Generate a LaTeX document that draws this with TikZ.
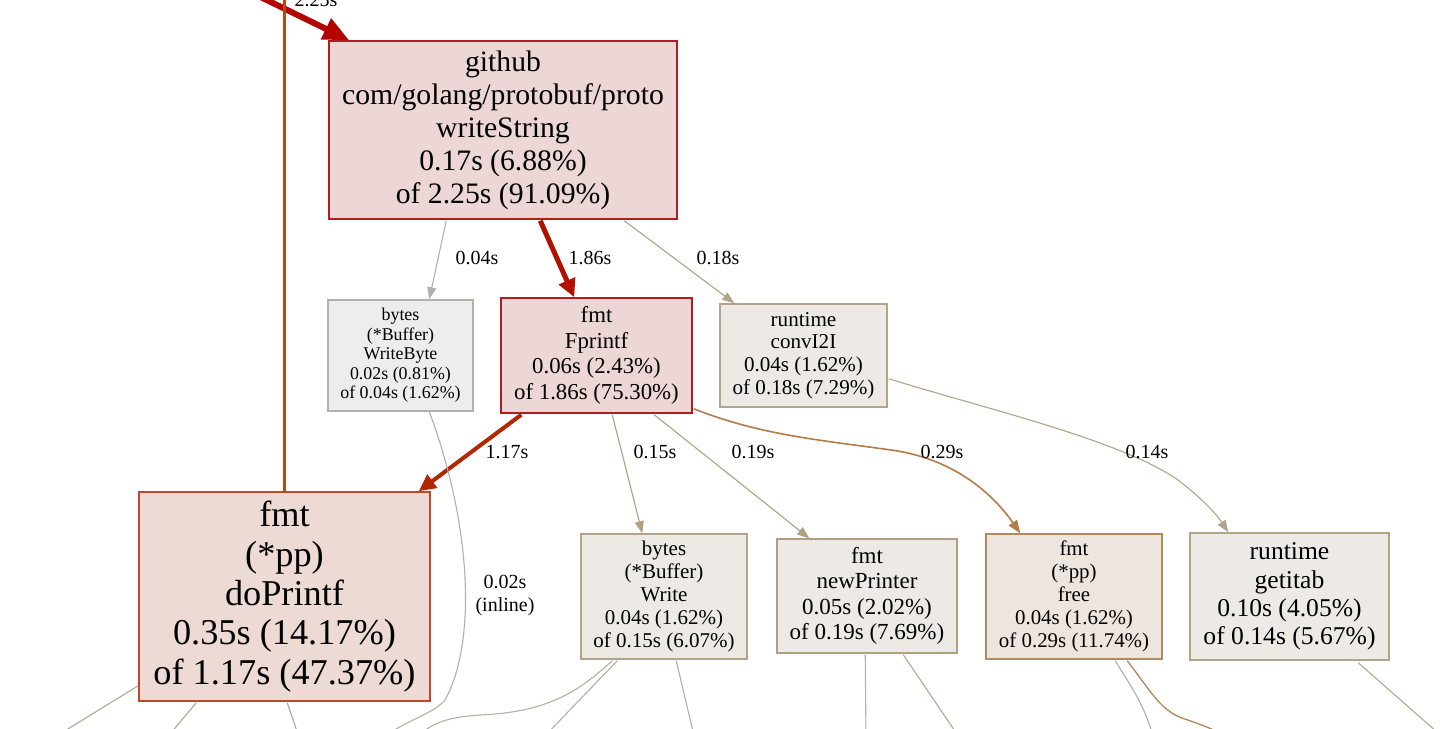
\documentclass[tikz,border=0pt]{standalone}
\usepackage{fontspec}
\setmainfont{Liberation Serif}
\usetikzlibrary{arrows.meta,calc}
\definecolor{eA}{HTML}{B20500}
\definecolor{eB}{HTML}{B21000}
\definecolor{eC}{HTML}{B22600}
\definecolor{eV}{HTML}{B8480F}
\definecolor{eF}{HTML}{B27C48}
\definecolor{eT}{HTML}{B29E80}
\definecolor{eL}{HTML}{B2A48A}
\definecolor{eG}{HTML}{B2B0AA}
\definecolor{eD}{HTML}{B2A894}
\definecolor{eN}{HTML}{B2865A}
\definecolor{fRed}{HTML}{EDD6D6}
\definecolor{dRed}{HTML}{B21C1C}
\definecolor{fOr}{HTML}{EDDAD5}
\definecolor{dOr}{HTML}{BC4A28}
\definecolor{fGr}{HTML}{EDEDEC}
\definecolor{dGr}{HTML}{B2B1AE}
\definecolor{fTan}{HTML}{EDEAE6}
\definecolor{dTan}{HTML}{B2A38A}
\definecolor{fTan2}{HTML}{EDE9E5}
\definecolor{dTan2}{HTML}{B29F83}
\definecolor{fBr}{HTML}{EDE5DE}
\definecolor{dBr}{HTML}{B28A5F}
\tikzset{
  box/.style={draw, rectangle, inner sep=0pt, align=center, line width=1.5pt},
  lbl/.style={font=\fontsize{20}{23}\selectfont, inner sep=0pt, align=center},
  thin/.style={line width=1.1pt},
  tipS/.style={-{Triangle[length=12pt,width=9pt]}},
}
\begin{document}
\begin{tikzpicture}[x=1pt,y=-1pt]
\useasboundingbox (0,0) rectangle (1450,728);
\clip (0,0) rectangle (1450,728);
\fill[white] (0,0) rectangle (1450,728);

% nodes
\node[box, fill=fRed, draw=dRed, minimum width=348pt, minimum height=178pt,
  font=\fontsize{29.7}{33}\selectfont] (gh) at (503,130)
  {github\\com/golang/protobuf/proto\\writeString\\0.17s (6.88\%)\\of 2.25s (91.09\%)};
\node[box, fill=fGr, draw=dGr, minimum width=145pt, minimum height=111pt,
  font=\fontsize{17.9}{19.5}\selectfont] (wb) at (400.5,355.5)
  {bytes\\(*Buffer)\\WriteByte\\0.02s (0.81\%)\\of 0.04s (1.62\%)};
\node[box, fill=fRed, draw=dRed, minimum width=191pt, minimum height=115pt,
  font=\fontsize{22.8}{25.5}\selectfont] (fp) at (596.5,355.5)
  {fmt\\Fprintf\\0.06s (2.43\%)\\of 1.86s (75.30\%)};
\node[box, fill=fTan, draw=dTan, minimum width=167pt, minimum height=103pt,
  font=\fontsize{21.1}{22.7}\selectfont] (cv) at (803.5,355.5)
  {runtime\\convI2I\\0.04s (1.62\%)\\of 0.18s (7.29\%)};
\node[box, fill=fOr, draw=dOr, minimum width=291pt, minimum height=209pt,
  font=\fontsize{36.3}{39.3}\selectfont] (dp) at (284.5,596.5)
  {fmt\\(*pp)\\doPrintf\\0.35s (14.17\%)\\of 1.17s (47.37\%)};
\node[box, fill=fTan, draw=dTan, minimum width=166pt, minimum height=125pt,
  font=\fontsize{21}{23}\selectfont] (wr) at (664,596.5)
  {bytes\\(*Buffer)\\Write\\0.04s (1.62\%)\\of 0.15s (6.07\%)};
\node[box, fill=fTan2, draw=dTan2, minimum width=180pt, minimum height=114pt,
  font=\fontsize{23}{25.5}\selectfont] (np) at (867,596)
  {fmt\\newPrinter\\0.05s (2.02\%)\\of 0.19s (7.69\%)};
\node[box, fill=fBr, draw=dBr, minimum width=176pt, minimum height=125pt,
  font=\fontsize{20.9}{23}\selectfont] (fr) at (1074,596.5)
  {fmt\\(*pp)\\free\\0.04s (1.62\%)\\of 0.29s (11.74\%)};
\node[box, fill=fTan, draw=dTan, minimum width=199pt, minimum height=127pt,
  font=\fontsize{25.6}{28.3}\selectfont] (gi) at (1289.5,596.5)
  {runtime\\getitab\\0.10s (4.05\%)\\of 0.14s (5.67\%)};

% free ends outside the picture
\coordinate (inA) at (195,-35);
\coordinate (upV) at (284.5,-30);

% incoming thick edge
\draw[eA, line width=6pt, -{Triangle[length=26pt,width=22pt]}]
  (inA) -- ($(gh.north west)+(21,0)$);
\node[lbl] (l225) at (316,0) {2.25s};
\draw[eV, line width=2.6pt] (dp.north) -- (upV);

% edges from writeString
\draw[eG, thin, tipS] ($(gh.south west)+(118,1)$) -- ($(wb.north west)+(102,0)$);
\node[lbl] (l004) at (477,258) {0.04s};
\draw[eB, line width=5pt, -{Triangle[length=18pt,width=17pt]}]
  ($(gh.south west)+(212,1)$) -- ($(fp.north west)+(74,0)$);
\node[lbl] (l186) at (590,258) {1.86s};
\draw[eL, thin, tipS] ($(gh.south west)+(296,1)$) -- ($(cv.north west)+(15,0)$);
\node[lbl] (l018) at (718,258) {0.18s};

% edges from Fprintf
\draw[eC, line width=4pt, -{Triangle[length=17pt,width=16pt]}]
  ($(fp.south west)+(21,1)$) -- ($(dp.north east)+(-12,0)$);
\node[lbl] (l117) at (507,452) {1.17s};
\draw[eT, thin, tipS] ($(fp.south west)+(112,1)$) -- ($(wr.north west)+(62,0)$);
\node[lbl] (l015) at (655,452) {0.15s};
\draw[eT, thin, tipS] ($(fp.south west)+(154,1)$) -- ($(np.north west)+(33,0)$);
\node[lbl] (l019) at (753,452) {0.19s};
\draw[eF, line width=1.6pt, -{Triangle[length=13pt,width=10pt]}]
  ($(fp.south east)+(1,-5)$) .. controls (760,435) and (820,440) .. (891,450)
  .. controls (950,458) and (990,490) .. ($(fr.north west)+(35,0)$);
\node[lbl] (l029) at (942,452) {0.29s};

% convI2I -> getitab
\draw[eL, thin, tipS] ($(cv.south east)+(1,-29)$) .. controls (990,410) and (1120,440) .. (1178,480)
  .. controls (1200,497) and (1215,512) .. ($(gi.north west)+(39,0)$);
\node[lbl] (l014) at (1147,452) {0.14s};

% WriteByte downwards (inline)
\coordinate (wbEnd) at (380,740);
\draw[eG, thin] ($(wb.south west)+(102,0)$) .. controls (470,520) and (478,640) .. (445,700)
  .. controls (432,715) and (405,720) .. (wbEnd);
\node[lbl] (l002) at (505,595) {0.02s\\(inline)};

% edges leaving the bottom of the picture
\coordinate (b1) at (50,740);
\coordinate (b2) at (165,740);
\coordinate (b3) at (300,740);
\coordinate (b4) at (415,740);
\coordinate (b5) at (541,740);
\coordinate (b6) at (695,740);
\coordinate (b7) at (866,740);
\coordinate (b8) at (961,740);
\coordinate (b9) at (1154,740);
\coordinate (b10) at (1240,745);
\coordinate (b11) at (1446,740);
\draw[eD, thin] ($(dp.south west)+(0,-16)$) -- (b1);
\draw[eD, thin] ($(dp.south west)+(58,1)$) -- (b2);
\draw[eD, thin] ($(dp.south west)+(149,1)$) -- (b3);
\draw[eG, thin] ($(wr.south west)+(32,1)$) .. controls (580,690) and (550,712) .. (480,715)
  .. controls (450,717) and (430,722) .. (b4);
\draw[eG, thin] ($(wr.south west)+(37,1)$) -- (b5);
\draw[eG, thin] ($(wr.south west)+(96,1)$) -- (b6);
\draw[eG, thin] ($(np.south west)+(89,1)$) -- (b7);
\draw[eD, thin] ($(np.south west)+(127,1)$) -- (b8);
\draw[eG, thin] ($(fr.south west)+(130,1)$) .. controls (1130,685) and (1145,705) .. (b9);
\draw[eN, line width=1.3pt] ($(fr.south west)+(142,1)$) .. controls (1150,690) and (1160,710) .. (1182,718)
  .. controls (1205,726) and (1222,732) .. (b10);
\draw[eD, thin] ($(gi.south west)+(169,2)$) -- (b11);
\end{tikzpicture}
\end{document}
